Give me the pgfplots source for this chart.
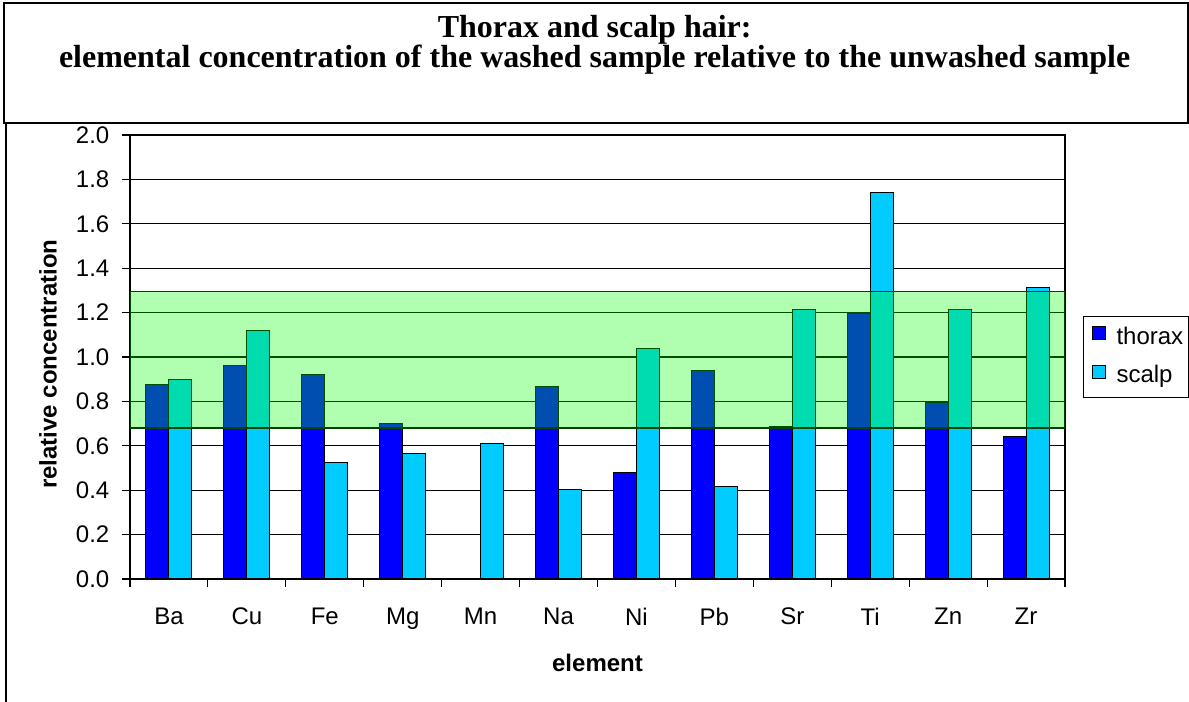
\documentclass[border=0pt]{standalone}
\usepackage{pgfplots}
\pgfplotsset{compat=1.18}
\usepackage{fontspec}
\setmainfont{Liberation Sans}
\newfontfamily\titlefont{Liberation Serif}
\definecolor{scalpc}{RGB}{0,204,255}
\definecolor{banddraw}{RGB}{0,70,0}
\begin{document}
\begin{tikzpicture}
\useasboundingbox (0pt,0pt) rectangle (891.75pt,526.5pt);
\draw[line width=1.2pt] (3pt,434.25pt) rectangle (891pt,524.25pt);
\draw[line width=1.2pt] (4.5pt,0pt) -- (4.5pt,434.25pt);
\node[font=\titlefont\bfseries\fontsize{24}{22.5}\selectfont, align=center] at (446pt,493pt) {Thorax and scalp hair:\\elemental concentration of the washed sample relative to the unwashed sample};
\begin{axis}[at={(97.5pt,92.25pt)}, anchor=south west, width=701.25pt, height=333pt, scale only axis,
 xmin=-0.5, xmax=11.5, ymin=0, ymax=2,
 xtick={0,1,2,3,4,5,6,7,8,9,10,11}, xticklabels={Ba,Cu,Fe,Mg,Mn,Na,Ni,Pb,Sr,Ti,Zn,Zr},
 major x tick style={draw=none},
 minor xtick={-0.5,0.5,1.5,2.5,3.5,4.5,5.5,6.5,7.5,8.5,9.5,10.5,11.5},
 ytick={0,0.2,0.4,0.6,0.8,1.0,1.2,1.4,1.6,1.8,2.0},
 xtick pos=bottom, ytick pos=left,
 tick align=outside, major tick length=6pt, minor tick length=6pt,
 tick style={black, line width=0.8pt},
 ymajorgrids, major grid style={black, line width=0.8pt},
 axis line style={black, line width=0.8pt},
 /pgf/number format/assume math mode=true,
 tick label style={font=\fontsize{18}{21}\selectfont},
 yticklabel style={xshift=-6pt, /pgf/number format/.cd, fixed, fixed zerofill, precision=1},
 xticklabel style={yshift=-12pt},
 xlabel={element}, ylabel={relative concentration},
 xlabel style={font=\bfseries\fontsize{18}{21}\selectfont, at={(rel axis cs:0.5,0)}, anchor=base, yshift=-69.75pt},
 ylabel style={font=\bfseries\fontsize{18}{21}\selectfont, at={(rel axis cs:0,0.484)}, anchor=center, yshift=61.5pt},
 legend style={at={(1,0.592)}, anchor=north west, xshift=13.5pt, draw=black, line width=0.8pt,
   font=\fontsize{18}{21}\selectfont, inner xsep=3.75pt, inner ysep=7pt, row sep=11.5pt, cells={anchor=west},
   nodes={inner sep=0pt, text height=13pt, text depth=4pt}},
 legend image code/.code={\path[draw=none, fill=none] (0pt,0pt) -- (21pt,0pt); \draw[#1, draw=black, line width=0.6pt] (3pt,-1pt) rectangle (12.75pt,8.75pt);},
]
\addplot[ybar, bar width=17.25pt, bar shift=-8.625pt, fill=blue, draw=black, line width=0.8pt]
 coordinates {(0,0.877) (1,0.961) (2,0.922) (3,0.701) (5,0.869) (6,0.48) (7,0.938) (8,0.688) (9,1.198) (10,0.794) (11,0.641)};
\addlegendentry{thorax}
\addplot[ybar, bar width=17.25pt, bar shift=8.625pt, fill=scalpc, draw=black, line width=0.8pt]
 coordinates {(0,0.90) (1,1.12) (2,0.526) (3,0.565) (4,0.61) (5,0.404) (6,1.037) (7,0.417) (8,1.212) (9,1.742) (10,1.212) (11,1.314)};
\addlegendentry{scalp}
\addplot[fill=green, fill opacity=0.31, draw=banddraw, line width=0.8pt, forget plot]
 coordinates {(-0.5,0.68) (11.5,0.68) (11.5,1.297) (-0.5,1.297)} -- cycle;
\end{axis}
\end{tikzpicture}
\end{document}
